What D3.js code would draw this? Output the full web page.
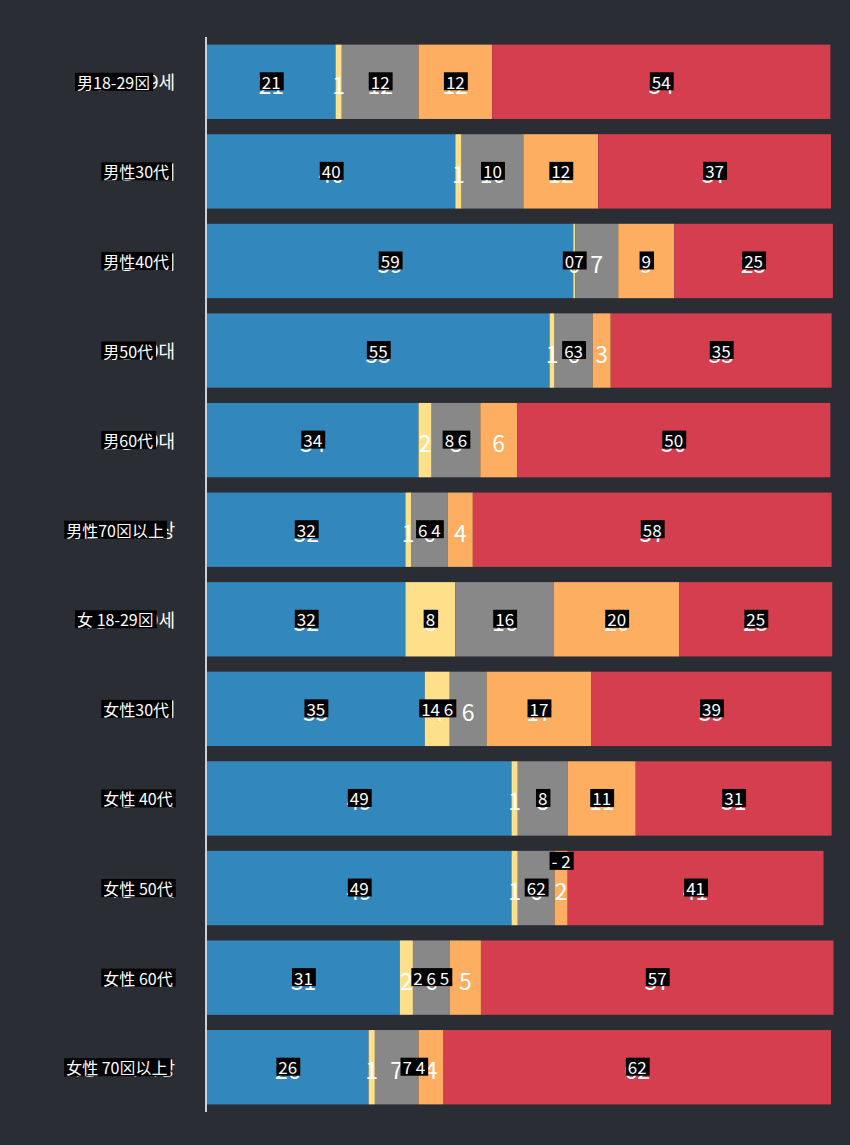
<!DOCTYPE html>
<html><head><meta charset="utf-8">
<script src="https://cdn.jsdelivr.net/npm/d3@7"></script>
<style>
html,body{margin:0;padding:0;background:#2b2d35;}
svg{display:block;}
</style></head>
<body>
<svg id="chart" width="850" height="1145"></svg>
<script>
// ---- data ----
const categories = ["남성 18-29세","남성 30대","남성 40대","남성 50대","남성 60대","남성 70세 이상",
                    "여성 18-29세","여성 30대","여성 40대","여성 50대","여성 60대","여성 70세 이상"];
const seriesKeys = ["s1","s2","s3","s4","s5"];
const seriesS1 = [20.6, 39.8, 58.7, 54.9, 33.9, 31.8, 31.8, 34.9, 48.8, 48.8, 30.9, 25.9];
const seriesS2 = [1.0, 1.0, 0.3, 0.8, 2.1, 0.9, 8.0, 4.0, 1.0, 1.0, 2.1, 1.0];
const seriesS3 = [12.3, 9.9, 6.9, 6.1, 7.8, 5.9, 15.8, 5.9, 8.0, 5.9, 5.9, 7.0];
const seriesS4 = [11.8, 12.0, 9.0, 2.9, 5.9, 4.0, 20.1, 16.8, 10.9, 2.1, 5.0, 4.0];
const seriesS5 = [54.2, 37.3, 25.4, 35.4, 50.2, 57.5, 24.5, 38.5, 31.4, 41.0, 56.5, 62.1];
const seriesColors = ["#3288bd","#fee08b","#888888","#fdae61","#d53e4f"];

// overlay (translation boxes seen on the picture)
const categoryOverlay = ["男18-29⊠","男性30代","男性40代","男50代","男60代","男性70⊠以上",
                         "女 18-29⊠","女性30代","女性 40代","女性 50代","女性 60代","女性 70⊠以上"];
const valueOverlay = [
  [[[0],"21"],[[2],"12"],[[3],"12"],[[4],"54"]],
  [[[0],"40"],[[2],"10"],[[3],"12"],[[4],"37"]],
  [[[0],"59"],[[1],"07"],[[3],"9"],[[4],"25"]],
  [[[0],"55"],[[2],"63"],[[4],"35"]],
  [[[0],"34"],[[2],"8 6"],[[4],"50"]],
  [[[0],"32"],[[2],"6 4"],[[4],"58"]],
  [[[0],"32"],[[1],"8"],[[2],"16"],[[3],"20"],[[4],"25"]],
  [[[0],"35"],[[1],"14 6"],[[3],"17"],[[4],"39"]],
  [[[0],"49"],[[2],"8"],[[3],"11"],[[4],"31"]],
  [[[0],"49"],[[2],"62"],[[3],"- 2","top"],[[4],"41"]],
  [[[0],"31"],[[2],"2 6 5"],[[4],"57"]],
  [[[0],"26"],[[2,3],"7 4"],[[4],"62"]]
];

// ---- build ----
const allSeries = [seriesS1, seriesS2, seriesS3, seriesS4, seriesS5];
const rows = categories.map((c,i)=>{
  const r = {cat:c};
  seriesKeys.forEach((k,j)=> r[k] = allSeries[j][i]);
  return r;
});
const stacked = d3.stack().keys(seriesKeys)(rows);

const svg = d3.select("#chart");
const x = d3.scaleLinear().domain([0,100]).range([207,831]);
const y = d3.scaleBand().domain(categories).range([37,1112]).paddingInner(0.17).paddingOuter(0.085);
const color = d3.scaleOrdinal().domain(seriesKeys).range(seriesColors);

// bars
const layers = svg.append("g").selectAll("g").data(stacked).join("g")
  .attr("fill", d=>color(d.key));
layers.selectAll("rect").data(d=>d).join("rect")
  .attr("x", d=>x(d[0]))
  .attr("y", d=>y(d.data.cat))
  .attr("width", d=>x(d[1])-x(d[0]))
  .attr("height", y.bandwidth());

// value labels
const labelG = svg.append("g");
stacked.forEach(layer=>{
  labelG.selectAll(null).data(layer).join("text")
    .attr("x", d=>(x(d[0])+x(d[1]))/2)
    .attr("y", d=>y(d.data.cat)+y.bandwidth()/2+2)
    .attr("text-anchor","middle")
    .attr("dominant-baseline","central")
    .attr("fill","#ffffff")
    .attr("font-family","'Noto Sans CJK KR','Noto Sans',sans-serif")
    .attr("font-size",23)
    .text(d=>Math.round(d[1]-d[0]));
});

// axis (category)
const yAxis = svg.append("g").attr("transform","translate(206,0)")
  .call(d3.axisLeft(y).tickSize(0).tickPadding(31));
yAxis.select(".domain").attr("stroke","#cfd0d4").attr("stroke-width",2)
  .attr("d","M0,37V1112");
yAxis.selectAll(".tick text")
  .attr("fill","#ffffff")
  .attr("font-family","'Noto Sans CJK KR',sans-serif")
  .attr("font-size",18)
  .attr("dy","0.42em");

// overlays
const ovG = svg.append("g");
function addBox(cx, cy, txt, anchor, fontSize){
  const g = ovG.append("g");
  const t = g.append("text")
    .attr("x",cx).attr("y",cy)
    .attr("text-anchor",anchor)
    .attr("dominant-baseline","central")
    .attr("fill","#ffffff")
    .attr("font-family","'Noto Sans CJK SC','Noto Sans',sans-serif")
    .attr("font-size",fontSize)
    .text(txt);
  const bb = t.node().getBBox();
  g.insert("rect","text")
    .attr("x",bb.x-2).attr("y",cy-9)
    .attr("width",bb.width+5).attr("height",18)
    .attr("fill","#000000");
}
yAxis.selectAll(".tick").each(function(d,i){
  const tn = d3.select(this).select("text").node();
  const bb = tn.getBBox();
  const left = 206 + bb.x + 2;
  addBox(left, y(d)+y.bandwidth()/2, categoryOverlay[i], "start", 16);
});
valueOverlay.forEach((list,i)=>{
  const cat = categories[i];
  list.forEach(([segs,txt,pos])=>{
    const cx = d3.mean(segs, s=>{ const d = stacked[s][i]; return (x(d[0])+x(d[1]))/2; });
    const cy = pos==="top" ? y(cat)+10 : y(cat)+y.bandwidth()/2 - 0.5;
    addBox(cx, cy, txt, "middle", 17);
  });
});
</script>
</body></html>
